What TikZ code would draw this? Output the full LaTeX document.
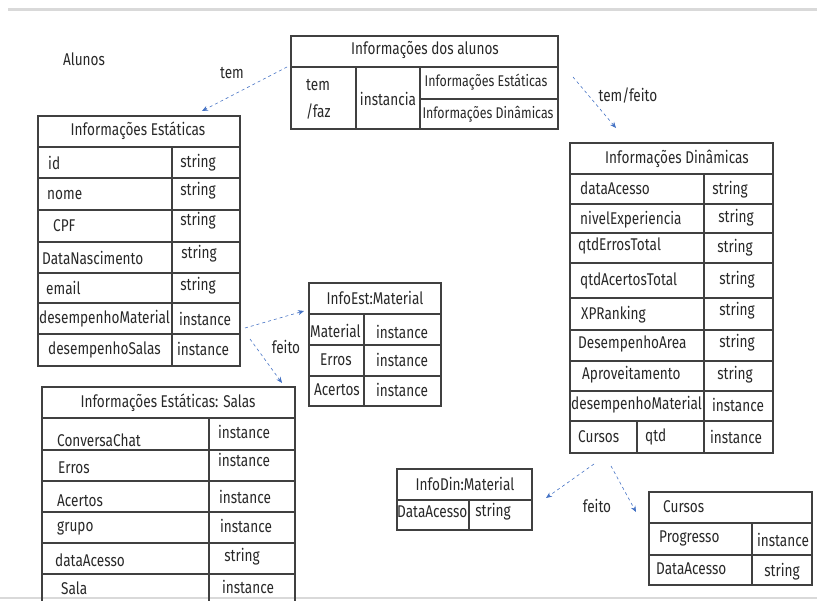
\documentclass[tikz,border=0pt]{standalone}
\usepackage{fontspec}
\setmainfont[FakeStretch=0.8]{Fira Sans}
\usetikzlibrary{arrows.meta}
\definecolor{rulegray}{RGB}{217,217,217}
\definecolor{linegray}{RGB}{64,64,64}
\definecolor{arrowblue}{RGB}{68,114,196}
\definecolor{textgray}{RGB}{40,40,40}

\begin{document}
\begin{tikzpicture}[x=1pt,y=-1pt,
  cell/.style={inner sep=0pt, text=textgray, font=\fontsize{17}{19}\selectfont},
  small/.style={cell, font=\fontsize{15.5}{17}\selectfont},
  lft/.style={cell, anchor=west},
  grid/.style={draw=linegray, line width=1.1pt},
  link/.style={draw=arrowblue, dashed, line width=0.6pt, -{Stealth[length=6pt,width=5pt]}}]
\useasboundingbox (0,0) rectangle (817,601);
\draw[rulegray, line width=3pt] (8,10) -- (817,10);
\draw[rulegray, line width=2pt] (0,598) -- (817,598);

\node[cell] (alunos) at (84,59) {Alunos};

% Informacoes dos alunos
\draw[grid] (291,36) rectangle (558,129);
\draw[grid] (291,67) -- (558,67) (356,67) -- (356,129) (420,67) -- (420,129) (420,99) -- (558,99);
\node[cell] (alTitle) at (425,50) {Informações dos alunos};
\node[lft] (alTem) at (306,85) {tem};
\node[lft] (alFaz) at (306,112) {/faz};
\node[cell] (alInst) at (388,99) {instancia};
\node[small] (alEst) at (486,82) {Informações Estáticas};
\node[small] (alDin) at (488,114) {Informações Dinâmicas};

% Informacoes Estaticas
\draw[grid] (38,116) rectangle (240,366);
\foreach \y in {147,178,210,242,273,303,334} \draw[grid] (38,\y) -- (240,\y);
\draw[grid] (172,147) -- (172,366);
\node[cell] (estTitle) at (138,131) {Informações Estáticas};
\node[lft] (estId) at (48,163) {id};
\node[lft] (estNome) at (47,195) {nome};
\node[lft] (estCpf) at (53,226) {CPF};
\node[lft] (estNasc) at (42,258) {DataNascimento};
\node[lft] (estEmail) at (46,288) {email};
\node[lft] (estMat) at (39,319) {desempenhoMaterial};
\node[lft] (estSalas) at (48,350) {desempenhoSalas};
\node[cell] (estIdT) at (198,163) {string};
\node[cell] (estNomeT) at (198,191) {string};
\node[cell] (estCpfT) at (198,221) {string};
\node[cell] (estNascT) at (199,254) {string};
\node[cell] (estEmailT) at (198,286) {string};
\node[cell] (estMatT) at (205,319) {instance};
\node[cell] (estSalasT) at (203,349) {instance};

% InfoEst:Material
\draw[grid] (309,283) rectangle (441,406);
\draw[grid] (309,314) -- (441,314) (309,345) -- (441,345) (309,376) -- (441,376) (364,314) -- (364,406);
\node[cell] (iemTitle) at (375,298) {InfoEst:Material};
\node[lft] (iemMat) at (310,331) {Material};
\node[cell] (iemErros) at (336,360) {Erros};
\node[cell] (iemAcertos) at (337,390) {Acertos};
\node[cell] (iemMatT) at (402,332) {instance};
\node[cell] (iemErrosT) at (402,360) {instance};
\node[cell] (iemAcertosT) at (402,390) {instance};

% Informacoes Estaticas: Salas
\draw[grid] (42,601) -- (42,387) -- (295,387) -- (295,601);
\foreach \y in {418,450,481,512,543,574} \draw[grid] (42,\y) -- (295,\y);
\draw[grid] (209,418) -- (209,601);
\node[cell] (salTitle) at (168,403) {Informações Estáticas: Salas};
\node[lft] (salChat) at (57,440) {ConversaChat};
\node[lft] (salErros) at (58,468) {Erros};
\node[lft] (salAcertos) at (57,501) {Acertos};
\node[lft] (salGrupo) at (57,528) {grupo};
\node[lft] (salData) at (55,560) {dataAcesso};
\node[lft] (salSala) at (61,588) {Sala};
\node[cell] (salChatT) at (244,432) {instance};
\node[cell] (salErrosT) at (244,460) {instance};
\node[cell] (salAcertosT) at (245,497) {instance};
\node[cell] (salGrupoT) at (246,526) {instance};
\node[cell] (salDataT) at (242,557) {string};
\node[cell] (salSalaT) at (248,587) {instance};

% Informacoes Dinamicas
\draw[grid] (570,143) rectangle (773,453);
\foreach \y in {174,204,233,263,298,330,361,391,421} \draw[grid] (570,\y) -- (773,\y);
\draw[grid] (704,174) -- (704,453) (637,421) -- (637,453);
\node[cell] (dinTitle) at (677,159) {Informações Dinâmicas};
\node[lft] (dinData) at (580,188) {dataAcesso};
\node[lft] (dinNivel) at (580,220) {nivelExperiencia};
\node[lft] (dinErros) at (578,246) {qtdErrosTotal};
\node[lft] (dinAcertos) at (580,281) {qtdAcertosTotal};
\node[lft] (dinXp) at (581,315) {XPRanking};
\node[lft] (dinArea) at (578,344) {DesempenhoArea};
\node[lft] (dinAprov) at (582,375) {Aproveitamento};
\node[lft] (dinMat) at (571,405) {desempenhoMaterial};
\node[lft] (dinCursos) at (578,437) {Cursos};
\node[lft] (dinQtd) at (645,437) {qtd};
\node[cell] (dinDataT) at (730,190) {string};
\node[cell] (dinNivelT) at (736,218) {string};
\node[cell] (dinErrosT) at (735,248) {string};
\node[cell] (dinAcertosT) at (737,280) {string};
\node[cell] (dinXpT) at (737,311) {string};
\node[cell] (dinAreaT) at (737,343) {string};
\node[cell] (dinAprovT) at (735,375) {string};
\node[cell] (dinMatT) at (738,405) {instance};
\node[cell] (dinCursosT) at (736,437) {instance};

% InfoDin:Material
\draw[grid] (397,469) rectangle (532,530);
\draw[grid] (397,500) -- (532,500) (469,500) -- (469,530);
\node[cell] (idmTitle) at (465,484) {InfoDin:Material};
\node[lft] (idmData) at (397,512) {DataAcesso};
\node[cell] (idmDataT) at (493,512) {string};

% Cursos
\draw[grid] (649,492) rectangle (812,585);
\draw[grid] (649,523) -- (812,523) (649,555) -- (812,555) (752,523) -- (752,585);
\node[lft] (curTitle) at (663,507) {Cursos};
\node[lft] (curProg) at (659,538) {Progresso};
\node[lft] (curData) at (656,569) {DataAcesso};
\node[cell] (curProgT) at (783,540) {instance};
\node[cell] (curDataT) at (782,572) {string};

% connectors
\coordinate (temA) at (287,67);
\coordinate (temB) at (202,111);
\coordinate (feitoA) at (573,77);
\coordinate (feitoB) at (616,128);
\coordinate (matA) at (245,328);
\coordinate (matB) at (304,311);
\coordinate (salA) at (250,339);
\coordinate (salB) at (282,383);
\coordinate (idmA) at (594,464);
\coordinate (idmB) at (546,498);
\coordinate (curA) at (611,466);
\coordinate (curB) at (636,512);
\draw[link] (temA) -- (temB);
\draw[link] (feitoA) -- (feitoB);
\draw[link] (matA) -- (matB);
\draw[link] (salA) -- (salB);
\draw[link] (idmA) -- (idmB);
\draw[link] (curA) -- (curB);
\node[cell] (temLbl) at (232,73) {tem};
\node[cell] (temFeitoLbl) at (628,96) {tem/feito};
\node[cell] (feitoLbl) at (286,347) {feito};
\node[cell] (feitoLbl2) at (597,506) {feito};
\end{tikzpicture}
\end{document}
